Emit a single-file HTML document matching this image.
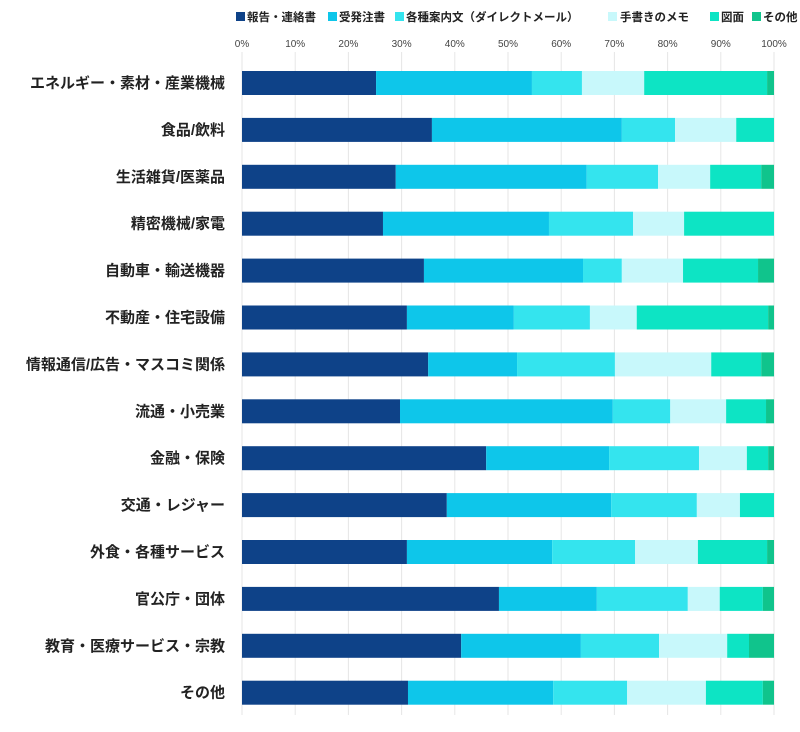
<!DOCTYPE html>
<html><head><meta charset="utf-8"><style>
body{margin:0;background:#fff;}
svg text{font-family:"Liberation Sans","Noto Sans CJK JP",sans-serif;}
</style></head><body>
<svg width="800" height="727" xmlns="http://www.w3.org/2000/svg">
<g id="legend" font-size="11.5" font-weight="bold" fill="#222">
<rect x="236" y="12" width="9" height="9" fill="#0e4288"/><text x="247" y="21">報告・連絡書</text>
<rect x="328" y="12" width="9" height="9" fill="#0ec6ea"/><text x="339" y="21">受発注書</text>
<rect x="395" y="12" width="9" height="9" fill="#34e4ee"/><text x="406" y="21">各種案内文（ダイレクトメール）</text>
<rect x="608" y="12" width="9" height="9" fill="#c8f8fb"/><text x="620" y="21">手書きのメモ</text>
<rect x="710" y="12" width="9" height="9" fill="#0de4c4"/><text x="721" y="21">図面</text>
<rect x="752" y="12" width="9" height="9" fill="#10c48c"/><text x="763" y="21">その他</text>
</g>
<g id="grid" stroke="#e6e6e6" stroke-width="1"></g>
<g id="ticks" font-size="10" fill="#444" text-anchor="middle"></g>
<g id="bars"></g>
<g id="labels" font-size="15" font-weight="bold" fill="#222" text-anchor="end"></g>
</svg>
<script>
const X0=242,W=532,ns="http://www.w3.org/2000/svg";
function el(p,t,a,txt){const e=document.createElementNS(ns,t);for(const k in a)e.setAttribute(k,a[k]);if(txt)e.textContent=txt;document.getElementById(p).appendChild(e);}
for(let i=0;i<=10;i++){const x=X0+W*i/10;el('grid','line',{x1:x,x2:x,y1:52,y2:715});el('ticks','text',{x:x,y:47},i*10+'%');}
const cols=["#0e4288","#0ec6ea","#34e4ee","#c8f8fb","#0de4c4","#10c48c"];
const data=[
["エネルギー・素材・産業機械",[25.2,54.5,63.9,75.6,98.7,100]],
["食品/飲料",[35.7,71.4,81.4,92.9,100,100]],
["生活雑貨/医薬品",[28.9,64.8,78.2,88,97.6,100]],
["精密機械/家電",[26.5,57.7,73.5,83.1,100,100]],
["自動車・輸送機器",[34.2,64.1,71.4,82.9,97,100]],
["不動産・住宅設備",[31,51.1,65.4,74.2,98.9,100]],
["情報通信/広告・マスコミ関係",[35,51.7,70.1,88.2,97.6,100]],
["流通・小売業",[29.7,69.7,80.5,91,98.5,100]],
["金融・保険",[45.9,69,85.9,94.9,98.9,100]],
["交通・レジャー",[38.5,69.4,85.5,93.6,100,100]],
["外食・各種サービス",[31,58.3,73.9,85.7,98.7,100]],
["官公庁・団体",[48.3,66.7,83.8,89.8,97.9,100]],
["教育・医療サービス・宗教",[41.2,63.7,78.4,91.2,95.3,100]],
["その他",[31.2,58.5,72.4,87.2,97.9,100]]];
data.forEach((d,i)=>{const cy=83+i*46.9;let prev=0;
d[1].forEach((v,j)=>{if(v>prev){el('bars','rect',{x:X0+W*prev/100,y:cy-12,width:W*(v-prev)/100,height:24,fill:cols[j]});}prev=v;});
el('labels','text',{x:225,y:cy+5},d[0]);});
</script>
</body></html>
